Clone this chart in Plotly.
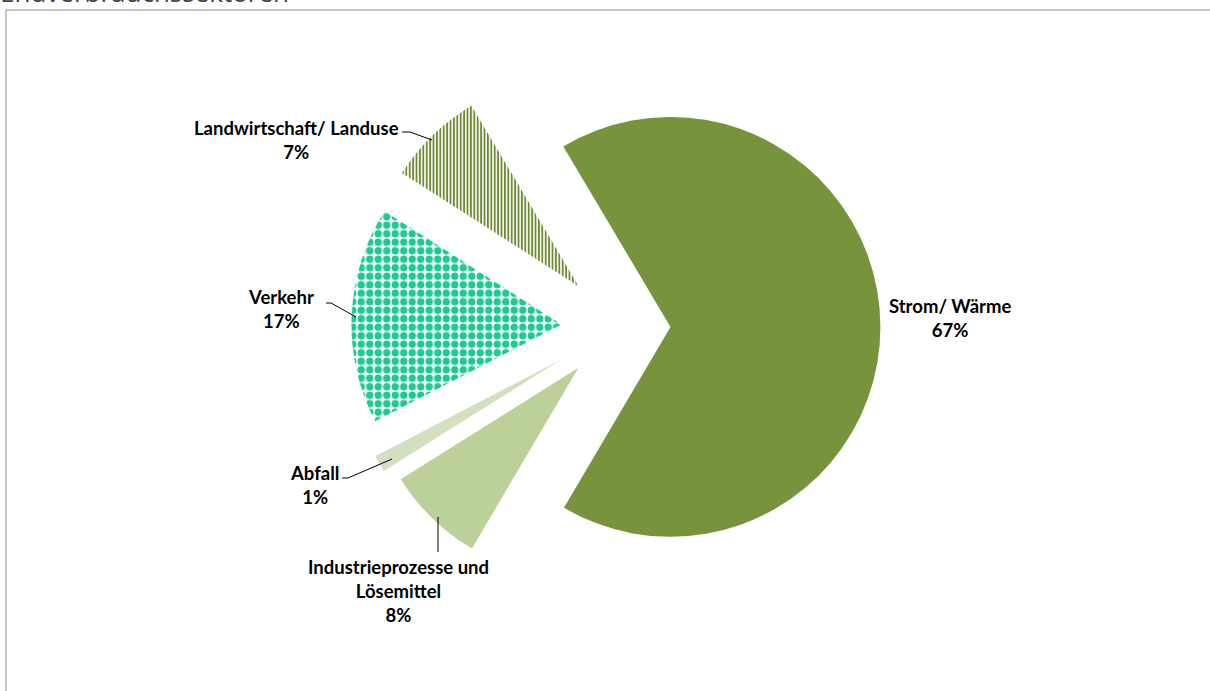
import plotly.graph_objects as go

W, H = 1210, 691

# Data (clockwise from the right-hand slice)
categories = ["Strom/ Wärme", "Industrieprozesse und<br>Lösemittel", "Abfall", "Verkehr", "Landwirtschaft/ Landuse"]
values = [67.0, 7.6, 1.3, 16.7, 7.4]
pulls = [0.25, 0.27, 0.31, 0.27, 0.27]
colors = ["#77933C", "#BCD09A", "#D3E0C0", "#1FC994", "#77933C"]
title_text = "Endverbrauchssektoren"

def px(x):
    return x / W

def py(y):
    return 1 - y / H

fig = go.Figure()
fig.add_trace(go.Pie(
    labels=categories,
    values=values,
    sort=False,
    direction="clockwise",
    rotation=-30.7,
    pull=pulls,
    textinfo="none",
    hoverinfo="label+percent",
    showlegend=False,
    domain=dict(x=[px(318), px(918)], y=[py(602), py(52)]),
    marker=dict(
        colors=colors,
        line=dict(width=0),
        pattern=dict(
            shape=["", "", "", ".", "|"],
            fgcolor=["#77933C", "#BCD09A", "#D3E0C0", "#1FC994", "#6E8A35"],
            bgcolor=["#77933C", "#BCD09A", "#D3E0C0", "#FFFFFF", "#FFFFFF"],
            size=[8, 8, 8, 8.5, 3.4],
            solidity=[0.3, 0.3, 0.3, 0.6, 0.55],
            fillmode="replace",
        ),
    ),
))

# label positions (pixel centres) and leader lines
label_pos = [(950, 318), (398, 591), (314, 485), (281, 309), (296, 140)]
leaders = [
    None,
    [(438, 517), (438, 552)],
    [(342, 478), (348, 478), (392, 459)],
    [(326, 303), (331, 303), (356, 317)],
    [(402, 132), (410, 132), (432, 140)],
]

annotations = []
for name, v, (lx, ly) in zip(categories, values, label_pos):
    annotations.append(dict(
        x=px(lx), y=py(ly), xref="paper", yref="paper",
        text=f"<b>{name}<br>{round(v)}%</b>",
        showarrow=False, xanchor="center", yanchor="middle",
        font=dict(family="Lato", size=18.5, color="#000000"),
        align="center",
    ))

annotations.append(dict(
    x=0, y=1, xref="paper", yref="paper", xanchor="left", yanchor="middle",
    yshift=8, xshift=-2,
    text=title_text, showarrow=False,
    font=dict(family="Open Sans", size=26, color="#404040"),
))

shapes = [dict(
    type="rect", xref="paper", yref="paper",
    x0=px(6), y0=py(10), x1=px(1230), y1=py(720),
    line=dict(color="#B3B3B3", width=1.5), fillcolor="rgba(0,0,0,0)", layer="below",
)]
for seg in leaders:
    if not seg:
        continue
    path = "M " + " L ".join(f"{px(a)},{py(b)}" for a, b in seg)
    shapes.append(dict(type="path", xref="paper", yref="paper", path=path,
                       line=dict(color="#000000", width=1)))

fig.update_layout(
    width=W, height=H,
    margin=dict(l=0, r=0, t=0, b=0),
    paper_bgcolor="white", plot_bgcolor="white",
    annotations=annotations,
    shapes=shapes,
)

fig.write_html(
    "out.html",
    config={"displayModeBar": False},
    post_script="document.body.style.margin='0';document.body.style.overflow='hidden';",
)
